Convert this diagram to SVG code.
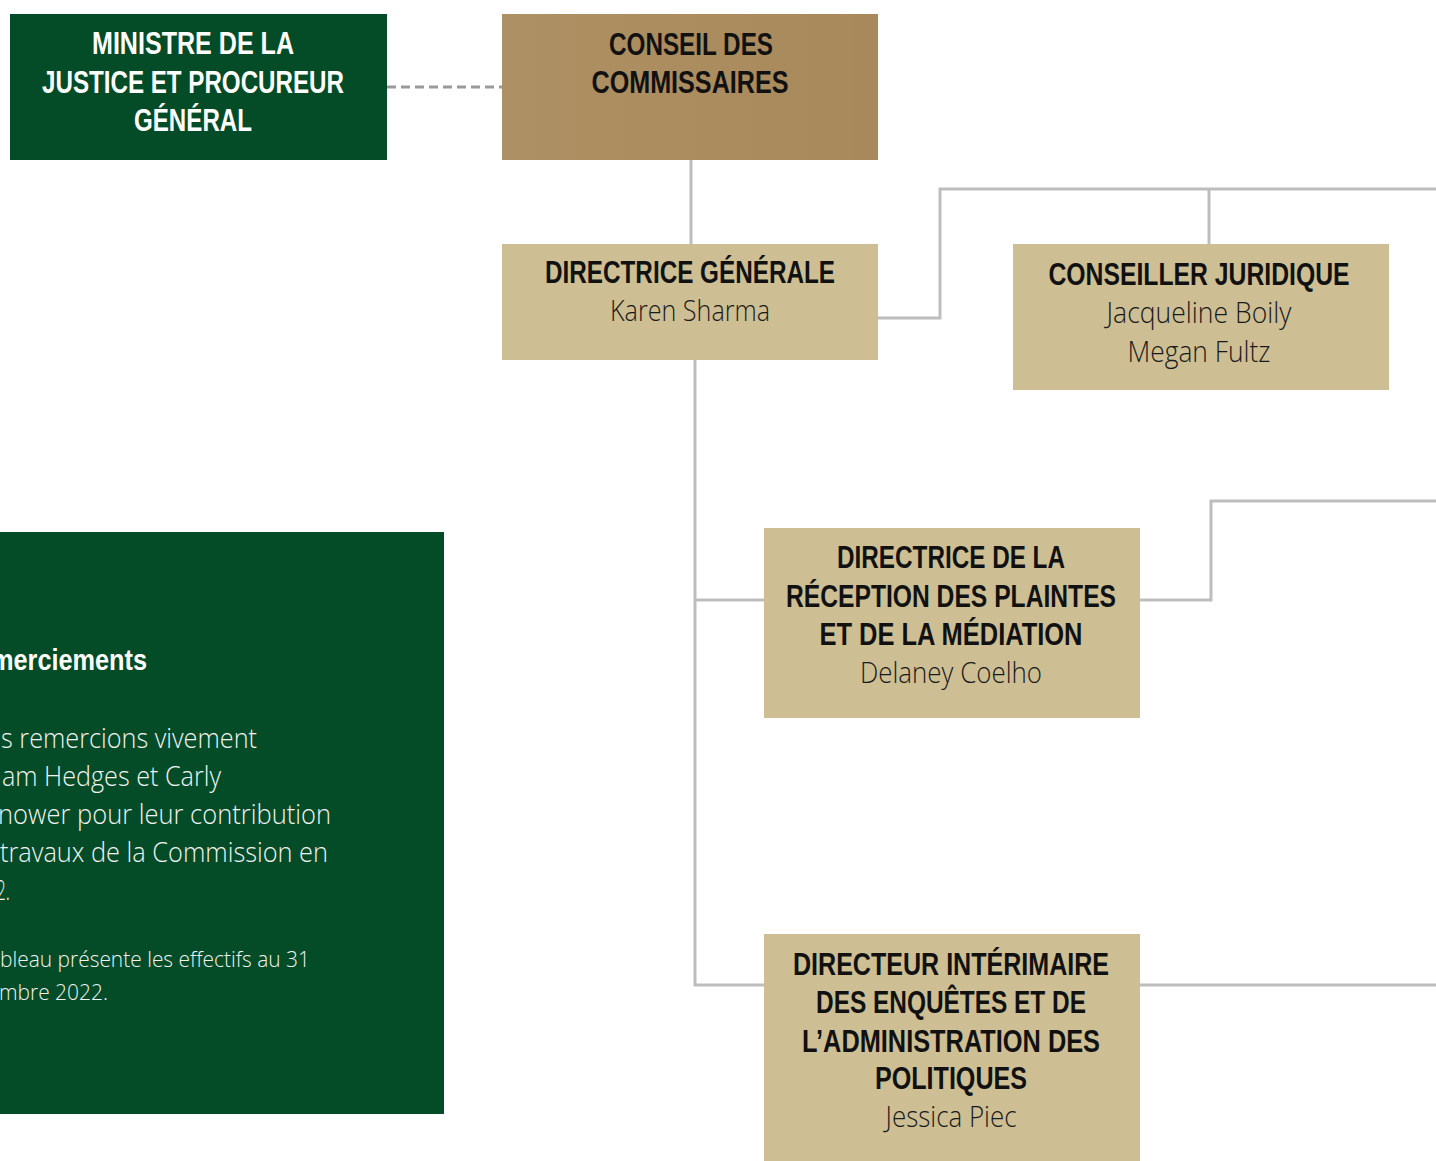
<svg xmlns="http://www.w3.org/2000/svg" width="1436" height="1161" viewBox="0 0 1436 1161">
<style>
.t{font-family:"Liberation Sans",Arial,sans-serif;font-weight:bold;font-size:31px;text-anchor:middle;fill:#111}
.w{fill:#ffffff}
.n{font-family:"Open Sans","Liberation Sans",sans-serif;font-weight:300;font-size:29px;text-anchor:middle;fill:#1a1a1a}
.b{font-family:"Open Sans","Liberation Sans",sans-serif;font-weight:300;font-size:27px;fill:#f2f2f2}
.s{font-family:"Open Sans","Liberation Sans",sans-serif;font-weight:300;font-size:22px;fill:#f2f2f2}
.h{font-family:"Liberation Sans",Arial,sans-serif;font-weight:bold;font-size:29px;fill:#ffffff}
.tan{fill:#cdbf93}
.grn{fill:#034c27}
.ln{fill:none;stroke:#bdbdbd;stroke-width:3}
.dash{fill:none;stroke:#9a9a9a;stroke-width:3;stroke-dasharray:9 5}
</style>
<defs>
<linearGradient id="gold" x1="0" y1="0" x2="1" y2="0">
<stop offset="0" stop-color="#ad9063"/>
<stop offset="1" stop-color="#a8895b"/>
</linearGradient>
</defs>
<rect width="1436" height="1161" fill="#ffffff"/>
<g id="connectors">
<path class="dash" d="M387 87 H502"/>
<path class="ln" d="M691 160 V244"/>
<path class="ln" d="M878 318 H940 V189 H1436"/>
<path class="ln" d="M1209 189 V244"/>
<path class="ln" d="M695 360 V985 H764"/>
<path class="ln" d="M695 600 H764"/>
<path class="ln" d="M1140 600 H1211 V501 H1436"/>
<path class="ln" d="M1140 985 H1436"/>
</g>
<g id="ministre">
<rect class="grn" x="10" y="14" width="377" height="146"/>
<text class="t w" x="193" y="54" textLength="202" lengthAdjust="spacingAndGlyphs">MINISTRE DE LA</text>
<text class="t w" x="193" y="93" textLength="302" lengthAdjust="spacingAndGlyphs">JUSTICE ET PROCUREUR</text>
<text class="t w" x="193" y="131" textLength="118" lengthAdjust="spacingAndGlyphs">GÉNÉRAL</text>
</g>
<g id="conseil">
<rect x="502" y="14" width="376" height="146" fill="url(#gold)"/>
<text class="t" x="691" y="55" textLength="164" lengthAdjust="spacingAndGlyphs">CONSEIL DES</text>
<text class="t" x="690" y="93" textLength="197" lengthAdjust="spacingAndGlyphs">COMMISSAIRES</text>
</g>
<g id="directrice-generale">
<rect class="tan" x="502" y="244" width="376" height="116"/>
<text class="t" x="690" y="283" textLength="290" lengthAdjust="spacingAndGlyphs">DIRECTRICE GÉNÉRALE</text>
<text class="n" x="690" y="321" textLength="160" lengthAdjust="spacingAndGlyphs">Karen Sharma</text>
</g>
<g id="conseiller-juridique">
<rect class="tan" x="1013" y="244" width="376" height="146"/>
<text class="t" x="1199" y="285" textLength="301" lengthAdjust="spacingAndGlyphs">CONSEILLER JURIDIQUE</text>
<text class="n" x="1199" y="323" textLength="185" lengthAdjust="spacingAndGlyphs">Jacqueline Boily</text>
<text class="n" x="1199" y="362" textLength="143" lengthAdjust="spacingAndGlyphs">Megan Fultz</text>
</g>
<g id="directrice-reception">
<rect class="tan" x="764" y="528" width="376" height="190"/>
<text class="t" x="951" y="568" textLength="228" lengthAdjust="spacingAndGlyphs">DIRECTRICE DE LA</text>
<text class="t" x="951" y="607" textLength="330" lengthAdjust="spacingAndGlyphs">RÉCEPTION DES PLAINTES</text>
<text class="t" x="951" y="645" textLength="263" lengthAdjust="spacingAndGlyphs">ET DE LA MÉDIATION</text>
<text class="n" x="951" y="683" textLength="182" lengthAdjust="spacingAndGlyphs">Delaney Coelho</text>
</g>
<g id="directeur-enquetes">
<rect class="tan" x="764" y="934" width="376" height="227"/>
<text class="t" x="951" y="975" textLength="316" lengthAdjust="spacingAndGlyphs">DIRECTEUR INTÉRIMAIRE</text>
<text class="t" x="951" y="1013" textLength="270" lengthAdjust="spacingAndGlyphs">DES ENQUÊTES ET DE</text>
<text class="t" x="951" y="1052" textLength="298" lengthAdjust="spacingAndGlyphs">L’ADMINISTRATION DES</text>
<text class="t" x="951" y="1089" textLength="152" lengthAdjust="spacingAndGlyphs">POLITIQUES</text>
<text class="n" x="951" y="1127" textLength="131" lengthAdjust="spacingAndGlyphs">Jessica Piec</text>
</g>
<g id="remerciements">
<rect class="grn" x="0" y="532" width="444" height="582"/>
<text class="h" x="-9" y="670" textLength="156" lengthAdjust="spacingAndGlyphs">merciements</text>
<text class="b" x="1" y="748" textLength="256" lengthAdjust="spacingAndGlyphs">s remercions vivement</text>
<text class="b" x="2" y="786" textLength="219" lengthAdjust="spacingAndGlyphs">am Hedges et Carly</text>
<text class="b" x="-2" y="824" textLength="333" lengthAdjust="spacingAndGlyphs">nower pour leur contribution</text>
<text class="b" x="0" y="862" textLength="328" lengthAdjust="spacingAndGlyphs">travaux de la Commission en</text>
<text class="b" x="-4" y="900" textLength="14" lengthAdjust="spacingAndGlyphs">2.</text>
<text class="s" x="0" y="967" textLength="310" lengthAdjust="spacingAndGlyphs">bleau présente les effectifs au 31</text>
<text class="s" x="-1" y="1000" textLength="109" lengthAdjust="spacingAndGlyphs">mbre 2022.</text>
</g>
</svg>
